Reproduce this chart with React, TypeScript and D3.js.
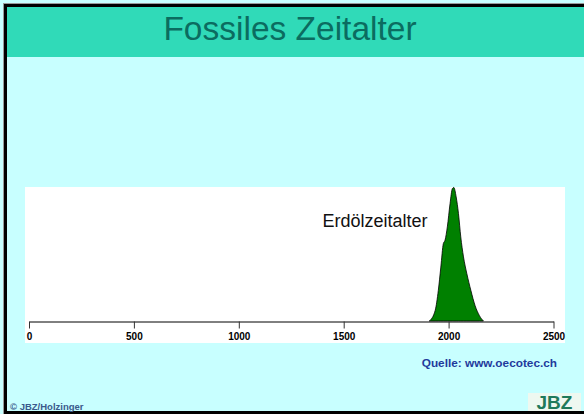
import React, { useEffect, useRef } from 'react';
import * as d3 from 'd3';

// years and relative production (peak = 100)
const years = [1908, 1936, 1951, 1963, 1975, 1983, 1994, 2007, 2018, 2025, 2036, 2047, 2058, 2071, 2087, 2106, 2126, 2147, 2166];
const production = [0, 7.9, 22.9, 40.4, 58, 60.5, 70.5, 88, 99.2, 100, 93, 80.5, 63, 48, 35.4, 23, 11.6, 4, 0];
const xTicks = [0, 500, 1000, 1500, 2000, 2500];

const width = 584;
const height = 414;

export default function App() {
  const ref = useRef<SVGSVGElement>(null);

  useEffect(() => {
    const svg = d3.select(ref.current);
    svg.selectAll('*').remove();

    // page background
    svg.append('rect').attr('width', width).attr('height', height).attr('fill', '#c8ffff');

    // title band
    svg.append('rect').attr('x', 5).attr('y', 5).attr('width', width - 5).attr('height', 52).attr('fill', '#30dab8');
    svg
      .append('text')
      .attr('x', 290)
      .attr('y', 40)
      .attr('text-anchor', 'middle')
      .style('font-family', 'Liberation Sans, Arial, sans-serif')
      .style('font-size', '33.5px')
      .attr('fill', '#0b6c60')
      .text('Fossiles Zeitalter');

    // frame
    svg.append('line').attr('x1', 3.5).attr('x2', 3.5).attr('y1', 3).attr('y2', height).attr('stroke', '#999');
    svg.append('line').attr('x1', 3).attr('x2', width).attr('y1', 3.5).attr('y2', 3.5).attr('stroke', '#999');
    svg.append('rect').attr('x', 4).attr('y', 4).attr('width', 3).attr('height', height - 4).attr('fill', '#000');
    svg.append('rect').attr('x', 4).attr('y', 4).attr('width', width - 4).attr('height', 3).attr('fill', '#000');
    svg.append('rect').attr('x', 4).attr('y', 411).attr('width', width - 4).attr('height', 3).attr('fill', '#000');

    // plot area
    svg.append('rect').attr('x', 25).attr('y', 187).attr('width', 540).attr('height', 156).attr('fill', '#fff');

    const xScale = d3.scaleLinear().domain([0, 2500]).range([29, 553.5]);
    const yScale = d3.scaleLinear().domain([0, 100]).range([321, 187.5]);

    const points = years.map((y, i) => [y, production[i]] as [number, number]);
    const area = d3
      .area<[number, number]>()
      .x((d) => xScale(d[0]))
      .y0(yScale(0))
      .y1((d) => yScale(d[1]))
      .curve(d3.curveMonotoneX);

    svg
      .append('path')
      .datum(points)
      .attr('d', area)
      .attr('fill', '#008000')
      .attr('stroke', '#000')
      .attr('stroke-width', 0.8);

    const xAxis = d3
      .axisBottom(xScale)
      .tickValues(xTicks)
      .tickFormat(d3.format('d'))
      .tickSize(7)
      .tickSizeOuter(0)
      .tickPadding(4);
    const g = svg
      .append('g')
      .attr('transform', 'translate(0,' + 321.5 + ')')
      .call(xAxis);
    g.select('.domain').attr('stroke', '#000');
    g.selectAll('.tick line').attr('stroke', '#333');
    g.selectAll('.tick text')
      .attr('fill', '#000')
      .style('font-family', 'Liberation Sans, Arial, sans-serif')
      .style('font-size', '10px')
      .style('font-weight', 'bold');

    svg
      .append('text')
      .attr('x', 322.5)
      .attr('y', 226.5)
      .style('font-family', 'Liberation Sans, Arial, sans-serif')
      .style('font-size', '18px')
      .attr('fill', '#111')
      .text('Erdölzeitalter');

    svg
      .append('text')
      .attr('x', 557)
      .attr('y', 366.5)
      .attr('text-anchor', 'end')
      .style('font-family', 'Liberation Sans, Arial, sans-serif')
      .style('font-size', '11.8px')
      .style('font-weight', 'bold')
      .attr('fill', '#1f3a9c')
      .text('Quelle: www.oecotec.ch');

    svg
      .append('text')
      .attr('x', 10)
      .attr('y', 410)
      .style('font-family', 'Liberation Sans, Arial, sans-serif')
      .style('font-size', '9.5px')
      .style('font-weight', 'bold')
      .attr('fill', '#3a5a8c')
      .text('© JBZ/Holzinger');

    // logo
    svg.append('rect').attr('x', 528).attr('y', 393).attr('width', 53).attr('height', 18).attr('fill', '#eef8f0');
    svg
      .append('text')
      .attr('x', 554.5)
      .attr('y', 409)
      .attr('text-anchor', 'middle')
      .style('font-family', 'Liberation Sans, Arial, sans-serif')
      .style('font-size', '19px')
      .style('font-weight', 'bold')
      .attr('fill', '#1f7a5a')
      .text('JBZ');
  }, []);

  return (
    <div style={{ position: 'fixed', left: 0, top: 0 }}>
      <svg ref={ref} width={width} height={height} style={{ display: 'block' }} />
    </div>
  );
}
